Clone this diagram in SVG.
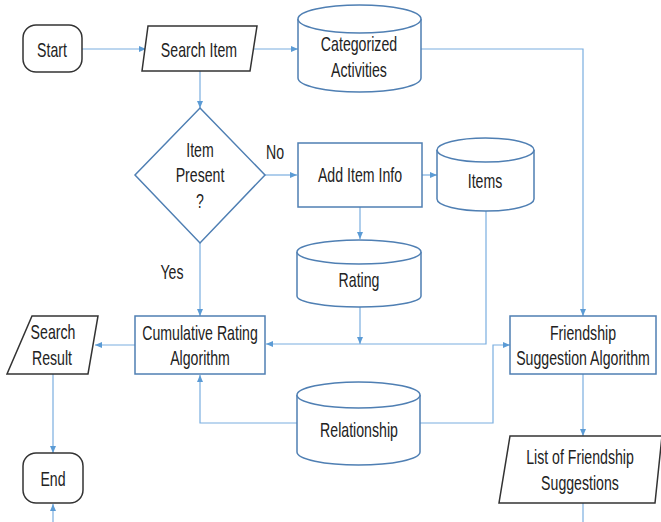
<svg xmlns="http://www.w3.org/2000/svg" width="661" height="522" viewBox="0 0 661 522">
<style>
.dark{fill:#fff;stroke:#333;stroke-width:1.5}
.blue{fill:#fff;stroke:#4f7fb3;stroke-width:1.5}
.conn{fill:none;stroke:#7aaee0;stroke-width:1.2}
text{font-family:"Liberation Sans",Arial,sans-serif;font-size:20.5px;fill:#222;text-anchor:middle}
</style>
<defs>
<marker id="ah" markerWidth="8" markerHeight="8" refX="7" refY="4" orient="auto" markerUnits="userSpaceOnUse">
<path d="M0,1 L7,4 L0,7 Z" fill="#5b9bd5"/>
</marker>
</defs>
<g id="connectors">
<path class="conn" d="M82,49 H146" marker-end="url(#ah)"/>
<path class="conn" d="M254,49 H298" marker-end="url(#ah)"/>
<path class="conn" d="M421,49 H583 V316" marker-end="url(#ah)"/>
<path class="conn" d="M200,71 V108" marker-end="url(#ah)"/>
<path class="conn" d="M265,175 H297" marker-end="url(#ah)"/>
<path class="conn" d="M422,175 H437" marker-end="url(#ah)"/>
<path class="conn" d="M360,207 V239" marker-end="url(#ah)"/>
<path class="conn" d="M360,307 V344" marker-end="url(#ah)"/>
<path class="conn" d="M486,211 V344 H266" marker-end="url(#ah)"/>
<path class="conn" d="M200,243 V316" marker-end="url(#ah)"/>
<path class="conn" d="M135,345 H95" marker-end="url(#ah)"/>
<path class="conn" d="M53,374 V453" marker-end="url(#ah)"/>
<path class="conn" d="M53,522 V504" marker-end="url(#ah)"/>
<path class="conn" d="M297,423 H200 V375" marker-end="url(#ah)"/>
<path class="conn" d="M420,423 H493 V345 H510" marker-end="url(#ah)"/>
<path class="conn" d="M583,374 V436" marker-end="url(#ah)"/>
<path class="conn" d="M583,503 V522"/>
</g>
<g id="start">
<rect class="dark" x="23" y="25" width="59" height="47" rx="13" ry="13"/>
<text transform="translate(52,57) scale(0.69,1)">Start</text>
</g>
<g id="search-item">
<polygon class="dark" points="148,26 257,26 250,71 142,71"/>
<text transform="translate(199,57) scale(0.69,1)">Search Item</text>
</g>
<g id="categorized-activities">
<path class="blue" d="M298,19 A61.5,14 0 0 1 421,19 V78 A61.5,14 0 0 1 298,78 Z"/>
<path class="blue" d="M298,19 A61.5,14 0 0 0 421,19"/>
<text transform="translate(359,51) scale(0.69,1)">Categorized</text>
<text transform="translate(359,77) scale(0.69,1)">Activities</text>
</g>
<g id="item-present">
<polygon class="blue" points="200,108 265,175 200,243 135,175"/>
<text transform="translate(200,157) scale(0.69,1)">Item</text>
<text transform="translate(200,182) scale(0.69,1)">Present</text>
<text transform="translate(200,208) scale(0.69,1)">?</text>
</g>
<g id="label-no"><text transform="translate(275,159) scale(0.69,1)">No</text></g>
<g id="label-yes"><text transform="translate(172,279) scale(0.69,1)">Yes</text></g>
<g id="add-item-info">
<rect class="blue" x="298" y="143" width="124" height="64"/>
<text transform="translate(360,182) scale(0.69,1)">Add Item Info</text>
</g>
<g id="items">
<path class="blue" d="M437,150 A48.5,12 0 0 1 534,150 V199 A48.5,12 0 0 1 437,199 Z"/>
<path class="blue" d="M437,150 A48.5,12 0 0 0 534,150"/>
<text transform="translate(485,188) scale(0.69,1)">Items</text>
</g>
<g id="rating">
<path class="blue" d="M297,252 A62,12 0 0 1 421,252 V296 A62,11 0 0 1 297,296 Z"/>
<path class="blue" d="M297,252 A62,12 0 0 0 421,252"/>
<text transform="translate(359,287) scale(0.69,1)">Rating</text>
</g>
<g id="cumulative-rating">
<rect class="blue" x="135" y="316" width="130" height="58"/>
<text transform="translate(200,340) scale(0.69,1)">Cumulative Rating</text>
<text transform="translate(200,365) scale(0.69,1)">Algorithm</text>
</g>
<g id="search-result">
<polygon class="dark" points="32,316 98,316 88,374 7,374"/>
<text transform="translate(53,339) scale(0.69,1)">Search</text>
<text transform="translate(52,365) scale(0.69,1)">Result</text>
</g>
<g id="end">
<rect class="dark" x="23" y="453" width="60" height="50" rx="13" ry="13"/>
<text transform="translate(53,486) scale(0.69,1)">End</text>
</g>
<g id="relationship">
<path class="blue" d="M297,395 A61.5,13 0 0 1 420,395 V452 A61.5,13 0 0 1 297,452 Z"/>
<path class="blue" d="M297,395 A61.5,13 0 0 0 420,395"/>
<text transform="translate(359,437) scale(0.69,1)">Relationship</text>
</g>
<g id="friendship-suggestion">
<rect class="blue" x="510" y="316" width="146" height="58"/>
<text transform="translate(583,340) scale(0.69,1)">Friendship</text>
<text transform="translate(583,365) scale(0.69,1)">Suggestion Algorithm</text>
</g>
<g id="list-friendship">
<polygon class="dark" points="510,436 662,436 655,503 499,503"/>
<text transform="translate(580,464) scale(0.69,1)">List of Friendship</text>
<text transform="translate(580,490) scale(0.69,1)">Suggestions</text>
</g>
</svg>
